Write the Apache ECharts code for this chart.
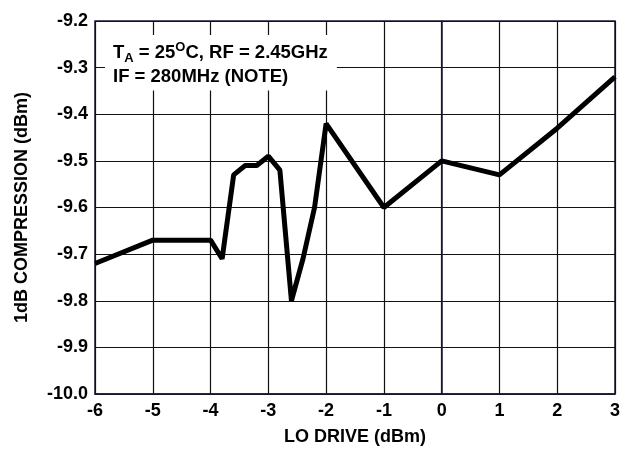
<!DOCTYPE html>
<html>
<head>
<meta charset="utf-8">
<script src="https://cdn.jsdelivr.net/npm/echarts@6/dist/echarts.min.js"></script>
<style>
html,body{margin:0;padding:0;background:#fff;}
#chart{width:623px;height:451px;}
</style>
</head>
<body>
<div id="chart"></div>
<script>
// LO drive (dBm)
var loDrive = [-6, -5, -4, -3.8, -3.6, -3.4, -3.2, -3, -2.8, -2.6, -2.4, -2.2, -2, -1, 0, 1, 2, 3];
// 1dB compression (dBm)
var compression = [-9.72, -9.67, -9.67, -9.71, -9.53, -9.51, -9.51, -9.49, -9.52, -9.80, -9.71, -9.60, -9.42, -9.60, -9.50, -9.53, -9.43, -9.32];

var xTicks = [-6, -5, -4, -3, -2, -1, 0, 1, 2, 3];
var yTicks = [-10.0, -9.9, -9.8, -9.7, -9.6, -9.5, -9.4, -9.3, -9.2];

var FONT = '"Liberation Sans", Arial, Helvetica, sans-serif';

var chart = echarts.init(document.getElementById('chart'), null, {renderer: 'canvas'});
var points = loDrive.map(function (x, i) { return [x, compression[i]]; });

chart.setOption({
  animation: false,
  backgroundColor: '#ffffff',
  title: {
    left: 105,
    top: 35,
    padding: [6, 9, 4, 8],
    backgroundColor: '#ffffff',
    text: '{m|T}{sub|A}{m| = 25}{sup|O}{m|C, RF = 2.45GHz}\n{m|IF = 280MHz (NOTE)}',
    textStyle: {
      fontFamily: FONT,
      rich: {
        m: {fontSize: 18.5, fontWeight: 'bold', color: '#000', lineHeight: 24, fontFamily: FONT},
        sub: {fontSize: 13, fontWeight: 'bold', color: '#000', lineHeight: 10, verticalAlign: 'bottom', fontFamily: FONT},
        sup: {fontSize: 13, fontWeight: 'bold', color: '#000', lineHeight: 22, verticalAlign: 'top', fontFamily: FONT}
      }
    }
  },
  grid: {
    left: 95,
    right: 6,
    top: 21,
    bottom: 51,
    show: true,
    borderColor: '#1a1a33',
    borderWidth: 1.5,
    containLabel: false
  },
  xAxis: {
    type: 'value',
    min: xTicks[0],
    max: xTicks[xTicks.length - 1],
    interval: 1,
    name: 'LO DRIVE (dBm)',
    nameLocation: 'middle',
    nameGap: 34,
    nameTextStyle: {fontFamily: FONT, fontSize: 18, fontWeight: 'bold', color: '#000'},
    axisLine: {show: true, lineStyle: {color: '#1a1a33', width: 1.5}},
    axisTick: {show: false},
    axisLabel: {fontFamily: FONT, fontSize: 18, fontWeight: 'bold', color: '#000', margin: 8},
    splitLine: {show: true, lineStyle: {color: '#111', width: 1.2}}
  },
  yAxis: {
    type: 'value',
    min: yTicks[0],
    max: yTicks[yTicks.length - 1],
    interval: 0.1,
    name: '1dB COMPRESSION (dBm)',
    nameLocation: 'middle',
    nameGap: 64,
    nameTextStyle: {fontFamily: FONT, fontSize: 18, fontWeight: 'bold', color: '#000'},
    axisLine: {show: true, lineStyle: {color: '#1a1a33', width: 1.5}},
    axisTick: {show: false},
    axisLabel: {
      fontFamily: FONT, fontSize: 18, fontWeight: 'bold', color: '#000', margin: 7,
      formatter: function (v) { return v.toFixed(1); }
    },
    splitLine: {show: true, lineStyle: {color: '#111', width: 1.2}}
  },
  series: [{
    type: 'line',
    data: points,
    showSymbol: false,
    symbol: 'none',
    lineStyle: {color: '#000', width: 5, join: 'bevel'},
    z: 3
  }]
});
</script>
</body>
</html>
